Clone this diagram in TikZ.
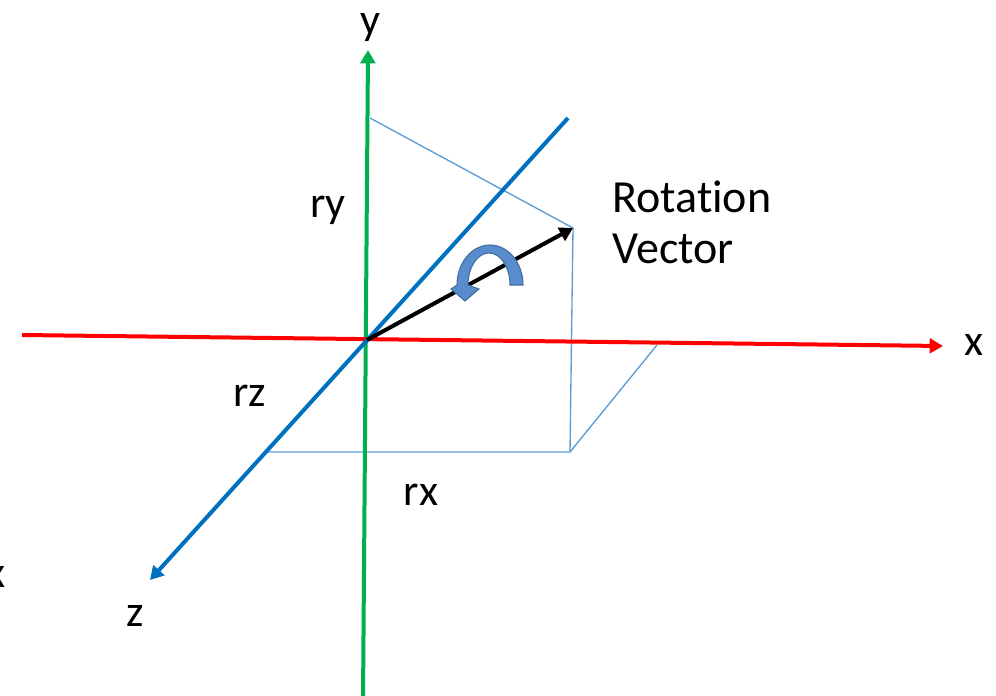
\documentclass[tikz,border=0pt]{standalone}
\usepackage{fontspec}
\setmainfont{Carlito}[Ligatures=NoCommon]
\usetikzlibrary{arrows.meta}
\definecolor{ygreen}{RGB}{0,176,80}
\definecolor{xred}{RGB}{255,0,0}
\definecolor{zblue}{RGB}{0,112,192}
\definecolor{thinblue}{RGB}{91,155,213}
\definecolor{arrfill}{RGB}{88,140,205}
\definecolor{arredge}{RGB}{65,113,156}
\tikzset{
  axis/.style={line width=3pt,-{Triangle[length=10pt,width=11pt]}},
  proj/.style={draw=thinblue,line width=1pt},
  lbl/.style={font=\fontsize{33}{40}\selectfont,inner sep=0pt,anchor=base},
  biglbl/.style={font=\fontsize{34.5}{40}\selectfont,inner sep=0pt,anchor=base west},
}
\begin{document}
\begin{tikzpicture}[x=0.75pt,y=-0.75pt]
\path[use as bounding box] (0,0) rectangle (996,696);
% axis end points
\coordinate (yb) at (363,700);
\coordinate (yt) at (368,50);
\coordinate (xl) at (22,335);
\coordinate (xr) at (943,346);
\coordinate (zt) at (568,118);
\coordinate (zb) at (150,580);
\coordinate (o) at (367,340);
\coordinate (v) at (573,228);
% projection points
\coordinate (py) at (370,118);
\coordinate (pf) at (570,452);
\coordinate (pz) at (268,452);
\coordinate (px) at (657,345);
% thin projection lines
\draw[proj] (py) -- (v) -- (pf) -- (pz);
\draw[proj] (pf) -- (px);
% axes
\draw[axis,draw=ygreen,fill=ygreen] (yb) -- (yt);
\draw[axis,draw=xred,fill=xred] (xl) -- (xr);
\draw[axis,draw=zblue,fill=zblue] (zt) -- (zb);
% rotation vector
\draw[axis,draw=black,fill=black] (o) -- (v);
% curved arrow
\filldraw[fill=arrfill,draw=arredge,line width=0.8pt]
  (523,285) arc[start angle=0,end angle=-180,x radius=33,y radius=40]
  -- (451,289) -- (465,301) -- (479,289) -- (468,285)
  arc[start angle=-180,end angle=0,x radius=21,y radius=32] -- cycle;
% labels
\node[lbl] (ylab) at (370,34) {y};
\node[lbl] (xlab) at (974,355) {x};
\node[lbl] (zlab) at (135,626) {z};
\node[lbl] (xcut) at (-4,587) {x};
\node[lbl] (rylab) at (328,217) {ry};
\node[lbl] (rzlab) at (250,406) {rz};
\node[lbl] (rxlab) at (421,505) {rx};
\node[biglbl] (rot) at (612,212) {Rotation};
\node[biglbl] (vec) at (612,263) {Vector};
\end{tikzpicture}
\end{document}
